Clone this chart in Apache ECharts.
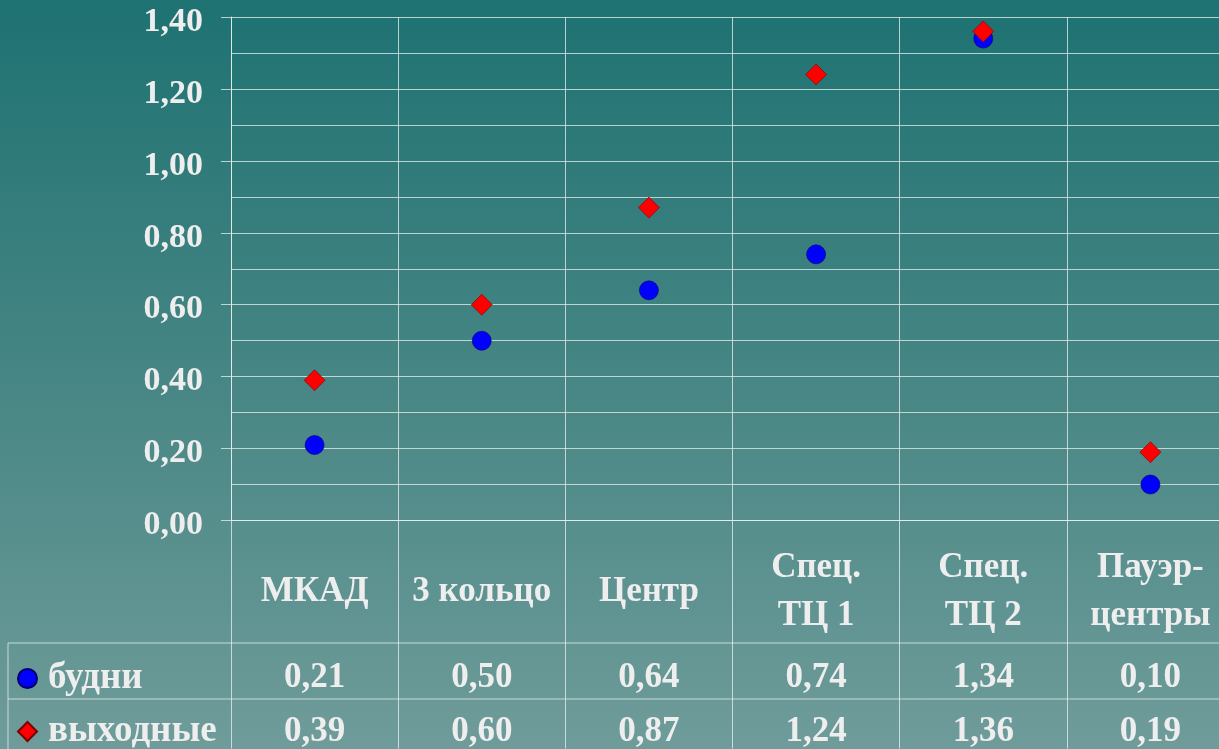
<!DOCTYPE html>
<html>
<head>
<meta charset="utf-8">
<script src="https://cdn.jsdelivr.net/npm/echarts@6/dist/echarts.min.js"></script>
<style>
html,body{margin:0;padding:0;overflow:hidden;width:1219px;height:749px;}
#c{width:1234px;height:749px;}
</style>
</head>
<body>
<div id="c"></div>
<script>
const categories = ['МКАД', '3 кольцо', 'Центр', 'Спец.\nТЦ 1', 'Спец.\nТЦ 2', 'Пауэр-\nцентры'];
const weekdays = [0.21, 0.50, 0.64, 0.74, 1.34, 0.10];
const weekends = [0.39, 0.60, 0.87, 1.24, 1.36, 0.19];
const seriesNames = ['будни', 'выходные'];
const yTicks = { min: 0, max: 1.4, interval: 0.2 };

const fmt = v => Number(v).toFixed(2).replace('.', ',');
const FONT = "'Liberation Serif', 'DejaVu Serif', serif";
const TXT = '#eeeeee';
const LINE = 'rgba(235,240,240,0.75)';

const W = 1234, H = 749;
const gridLeft = 231, gridTop = 17, gridBottomY = 521;
const row1Y = 643, row2Y = 699;

const chart = echarts.init(document.getElementById('c'), null, { renderer: 'canvas' });

const labelBase = { color: TXT, fontFamily: FONT, fontWeight: 'bold', fontSize: 35 };
const legendText = Object.assign({}, labelBase, { fontSize: 37, padding: [0, 0, 0, 6] });

chart.setOption({
  animation: false,
  backgroundColor: {
    type: 'linear', x: 0, y: 0, x2: 0, y2: 1,
    colorStops: [{ offset: 0, color: '#1e7272' }, { offset: 0.55, color: '#4a8886' }, { offset: 1, color: '#6f9c9a' }]
  },
  grid: { left: gridLeft, top: gridTop, right: 0, bottom: H - gridBottomY, containLabel: false },
  legend: [
    {
      data: [seriesNames[0]], left: 17, top: 660, padding: 0,
      itemWidth: 19, itemHeight: 19,
      textStyle: legendText
    },
    {
      data: [seriesNames[1]], left: 17, top: 713, padding: 0,
      itemWidth: 19, itemHeight: 19,
      textStyle: legendText
    }
  ],
  xAxis: [
    {
      type: 'category', data: categories, boundaryGap: true,
      axisLine: { show: true, lineStyle: { color: LINE, width: 1 } },
      axisTick: { show: true, interval: 0, length: H - gridBottomY, lineStyle: { color: LINE, width: 1 } },
      splitLine: { show: true, interval: 0, lineStyle: { color: LINE, width: 1 } },
      axisLabel: Object.assign({}, labelBase, { interval: 0, margin: 71, verticalAlign: 'middle', lineHeight: 48 })
    },
    {
      type: 'category', data: weekdays.map(fmt), position: 'bottom',
      axisLine: { show: false }, axisTick: { show: false }, splitLine: { show: false },
      axisLabel: Object.assign({}, labelBase, { interval: 0, margin: 157, verticalAlign: 'middle' })
    },
    {
      type: 'category', data: weekends.map(fmt), position: 'bottom',
      axisLine: { show: false }, axisTick: { show: false }, splitLine: { show: false },
      axisLabel: Object.assign({}, labelBase, { interval: 0, margin: 211, verticalAlign: 'middle' })
    }
  ],
  yAxis: {
    type: 'value', min: yTicks.min, max: yTicks.max, interval: yTicks.interval,
    axisLine: { show: true, lineStyle: { color: LINE, width: 1 } },
    axisTick: { show: true, length: 10, lineStyle: { color: LINE, width: 1 } },
    splitLine: { show: true, lineStyle: { color: LINE, width: 1 } },
    minorTick: { show: false, splitNumber: 2 },
    minorSplitLine: { show: true, lineStyle: { color: LINE, width: 1 } },
    axisLabel: Object.assign({}, labelBase, { fontSize: 34, margin: 28, verticalAlign: 'top', lineHeight: 10, formatter: v => fmt(v) })
  },
  series: [
    {
      name: seriesNames[0], type: 'scatter', xAxisIndex: 0, data: weekdays,
      symbol: 'circle', symbolSize: 19,
      itemStyle: { color: '#0000ff', borderColor: '#00006a', borderWidth: 0.6, opacity: 1 }
    },
    {
      name: seriesNames[1], type: 'scatter', xAxisIndex: 0, data: weekends,
      symbol: 'diamond', symbolSize: 21,
      itemStyle: { color: '#ff0000', borderColor: '#7a0000', borderWidth: 0.6, opacity: 1 }
    }
  ],
  graphic: [
    { type: 'line', shape: { x1: 8, y1: row1Y, x2: W, y2: row1Y }, style: { stroke: LINE, lineWidth: 1 }, silent: true },
    { type: 'line', shape: { x1: 8, y1: row2Y, x2: W, y2: row2Y }, style: { stroke: LINE, lineWidth: 1 }, silent: true },
    { type: 'line', shape: { x1: 8, y1: row1Y, x2: 8, y2: H }, style: { stroke: LINE, lineWidth: 1 }, silent: true }
  ]
});
</script>
</body>
</html>
